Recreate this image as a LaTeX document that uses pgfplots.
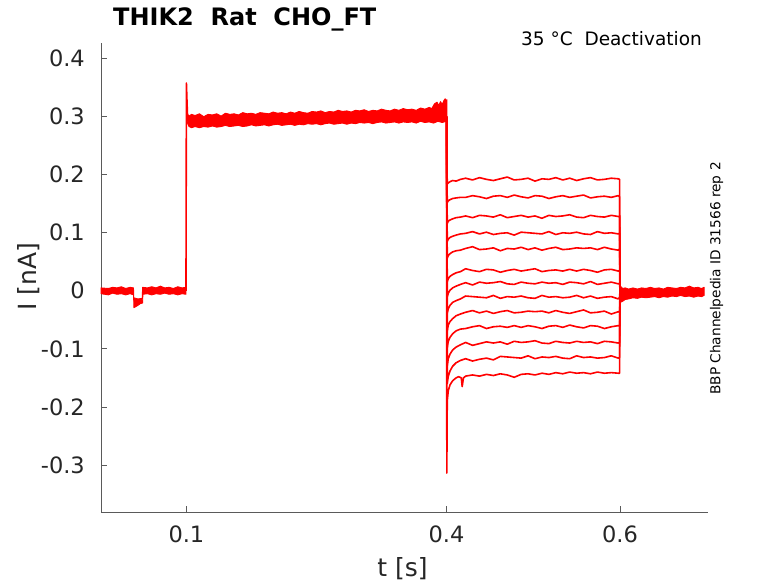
\documentclass[border=0pt]{standalone}
\usepackage{pgfplots}
\pgfplotsset{compat=1.18}
\usepackage{fontspec}
\setmainfont{DejaVu Sans}
\definecolor{axgray}{RGB}{90,90,90}
\definecolor{txtgray}{RGB}{38,38,38}
\begin{document}
\begin{tikzpicture}
\path[use as bounding box] (0,0) rectangle (778pt,583pt);
\begin{axis}[
  at={(101pt,70.5pt)}, anchor=south west,
  scale only axis, width=607pt, height=469.5pt,
  xmin=0.0015, xmax=0.7015, ymin=-0.382, ymax=0.427,
  axis x line*=bottom, axis y line*=left,
  axis line style={draw=axgray, line width=0.7pt, -},
  tick style={draw=axgray, line width=0.7pt},
  major tick length=6pt, tick align=inside,
  xtick={0.1,0.4,0.6}, xticklabels={0.1,0.4,0.6},
  ytick={-0.3,-0.2,-0.1,0,0.1,0.2,0.3,0.4},
  yticklabels={-0.3,-0.2,-0.1,0,0.1,0.2,0.3,0.4},
  yticklabel style={font=\fontsize{22.5}{26}\selectfont, text=txtgray, anchor=east, inner sep=0pt, xshift=-16pt},
  xticklabel style={font=\fontsize{22.5}{26}\selectfont, text=txtgray, anchor=north, inner sep=0pt, yshift=-13.5pt},
  clip=false,
  every axis plot/.append style={line join=round},
]
% baseline before 0.1
\addplot[red, fill=red, line width=0.9pt] coordinates {
(0.0015,0.005)(0.01,0.004)(0.015,0.006)(0.02,0.005)(0.025,0.007)(0.03,0.004)(0.035,0.006)(0.039,0.005)(0.0392,-0.012)(0.044,-0.014)(0.049,-0.013)(0.0495,0.006)(0.055,0.005)(0.06,0.007)(0.065,0.005)(0.07,0.008)(0.075,0.005)(0.08,0.006)(0.085,0.004)(0.09,0.007)(0.095,0.005)(0.0995,0.006)
(0.0995,-0.006)(0.095,-0.005)(0.09,-0.007)(0.085,-0.005)(0.08,-0.006)(0.075,-0.004)(0.07,-0.006)(0.065,-0.005)(0.06,-0.007)(0.055,-0.005)(0.0498,-0.006)(0.0495,-0.021)(0.047,-0.022)(0.045,-0.024)(0.043,-0.026)(0.0395,-0.029)(0.039,-0.007)(0.035,-0.005)(0.03,-0.007)(0.025,-0.005)(0.02,-0.006)(0.015,-0.004)(0.01,-0.007)(0.0015,-0.005)
} -- cycle;
% onset spike at 0.1
\addplot[red, line width=1.6pt] coordinates {(0.0995,0.0)(0.1,0.358)(0.1006,0.33)(0.1012,0.305)(0.102,0.295)};
% plateau band 0.1-0.4
\addplot[red, fill=red, line width=0.9pt] coordinates {
(0.1005,0.306)(0.103,0.301)(0.106,0.304)(0.11,0.302)(0.115,0.305)(0.12,0.300)(0.125,0.304)(0.13,0.303)(0.135,0.305)(0.14,0.301)(0.145,0.306)(0.15,0.304)(0.155,0.305)(0.16,0.303)(0.165,0.307)(0.17,0.305)(0.175,0.306)(0.18,0.304)(0.185,0.307)(0.19,0.306)(0.195,0.305)(0.20,0.308)(0.205,0.306)(0.21,0.307)(0.215,0.305)(0.22,0.308)(0.225,0.306)(0.23,0.309)(0.235,0.307)(0.24,0.306)(0.245,0.309)(0.25,0.308)(0.255,0.310)(0.26,0.307)(0.265,0.309)(0.27,0.308)(0.275,0.311)(0.28,0.309)(0.285,0.310)(0.29,0.308)(0.295,0.311)(0.30,0.310)(0.305,0.312)(0.31,0.309)(0.315,0.311)(0.32,0.310)(0.325,0.313)(0.33,0.311)(0.335,0.310)(0.34,0.313)(0.345,0.311)(0.35,0.314)(0.355,0.312)(0.36,0.313)(0.365,0.311)(0.37,0.315)(0.375,0.313)(0.38,0.316)(0.383,0.314)(0.386,0.322)(0.389,0.325)(0.391,0.319)(0.393,0.326)(0.395,0.321)(0.397,0.328)(0.3985,0.331)(0.3995,0.318)
(0.3995,0.292)(0.395,0.290)(0.39,0.292)(0.385,0.289)(0.38,0.291)(0.375,0.290)(0.37,0.292)(0.365,0.289)(0.36,0.291)(0.355,0.290)(0.35,0.291)(0.345,0.289)(0.34,0.291)(0.335,0.290)(0.33,0.289)(0.325,0.291)(0.32,0.290)(0.315,0.288)(0.31,0.290)(0.305,0.289)(0.30,0.290)(0.295,0.288)(0.29,0.289)(0.285,0.287)(0.28,0.289)(0.275,0.288)(0.27,0.287)(0.265,0.289)(0.26,0.288)(0.255,0.286)(0.25,0.288)(0.245,0.287)(0.24,0.288)(0.235,0.286)(0.23,0.287)(0.225,0.285)(0.22,0.287)(0.215,0.286)(0.21,0.285)(0.205,0.287)(0.20,0.286)(0.195,0.284)(0.19,0.286)(0.185,0.285)(0.18,0.284)(0.175,0.286)(0.17,0.284)(0.165,0.283)(0.16,0.285)(0.155,0.284)(0.15,0.283)(0.145,0.285)(0.14,0.283)(0.135,0.282)(0.13,0.284)(0.125,0.282)(0.12,0.283)(0.115,0.281)(0.11,0.283)(0.106,0.281)(0.103,0.283)(0.1015,0.288)(0.1005,0.295)
} -- cycle;
% deactivation sweeps
\addplot[red, line width=1.6pt] coordinates {(0.4,0.300)(0.4008,0.184)(0.402,0.186)(0.404,0.188)(0.407,0.190)(0.411,0.189)(0.416,0.192)(0.422,0.194)(0.430,0.191)(0.438,0.195)(0.446,0.192)(0.454,0.190)(0.462,0.193)(0.470,0.196)(0.478,0.191)(0.486,0.192)(0.494,0.194)(0.502,0.189)(0.510,0.193)(0.518,0.192)(0.526,0.195)(0.534,0.191)(0.542,0.194)(0.550,0.190)(0.558,0.193)(0.566,0.195)(0.574,0.191)(0.582,0.192)(0.590,0.194)(0.598,0.193)(0.5995,0.192)(0.6,0.0)};
\addplot[red, line width=1.6pt] coordinates {(0.4,0.300)(0.4008,0.152)(0.402,0.155)(0.404,0.157)(0.407,0.159)(0.411,0.160)(0.416,0.161)(0.422,0.161)(0.430,0.164)(0.438,0.162)(0.446,0.159)(0.454,0.163)(0.462,0.164)(0.470,0.161)(0.478,0.165)(0.486,0.162)(0.494,0.160)(0.502,0.164)(0.510,0.163)(0.518,0.159)(0.526,0.162)(0.534,0.164)(0.542,0.161)(0.550,0.163)(0.558,0.165)(0.566,0.160)(0.574,0.162)(0.582,0.163)(0.590,0.161)(0.598,0.164)(0.5995,0.162)(0.6,0.0)};
\addplot[red, line width=1.6pt] coordinates {(0.4,0.300)(0.4008,0.116)(0.402,0.120)(0.404,0.122)(0.407,0.124)(0.411,0.126)(0.416,0.127)(0.422,0.129)(0.430,0.126)(0.438,0.130)(0.446,0.129)(0.454,0.127)(0.462,0.131)(0.470,0.126)(0.478,0.128)(0.486,0.130)(0.494,0.127)(0.502,0.129)(0.510,0.125)(0.518,0.130)(0.526,0.128)(0.534,0.129)(0.542,0.131)(0.550,0.127)(0.558,0.126)(0.566,0.130)(0.574,0.128)(0.582,0.127)(0.590,0.130)(0.598,0.128)(0.5995,0.128)(0.6,0.0)};
\addplot[red, line width=1.6pt] coordinates {(0.4,0.300)(0.4008,0.085)(0.402,0.089)(0.404,0.092)(0.407,0.094)(0.411,0.096)(0.416,0.098)(0.422,0.099)(0.430,0.102)(0.438,0.098)(0.446,0.101)(0.454,0.097)(0.462,0.099)(0.470,0.100)(0.478,0.096)(0.486,0.101)(0.494,0.100)(0.502,0.099)(0.510,0.098)(0.518,0.102)(0.526,0.097)(0.534,0.100)(0.542,0.099)(0.550,0.101)(0.558,0.098)(0.566,0.097)(0.574,0.102)(0.582,0.099)(0.590,0.100)(0.598,0.098)(0.5995,0.099)(0.6,0.0)};
\addplot[red, line width=1.6pt] coordinates {(0.4,0.300)(0.4008,0.056)(0.402,0.061)(0.404,0.064)(0.407,0.067)(0.411,0.069)(0.416,0.070)(0.422,0.073)(0.430,0.076)(0.438,0.071)(0.446,0.072)(0.454,0.074)(0.462,0.069)(0.470,0.073)(0.478,0.072)(0.486,0.075)(0.494,0.071)(0.502,0.074)(0.510,0.070)(0.518,0.073)(0.526,0.075)(0.534,0.071)(0.542,0.072)(0.550,0.074)(0.558,0.073)(0.566,0.074)(0.574,0.071)(0.582,0.075)(0.590,0.072)(0.598,0.070)(0.5995,0.072)(0.6,0.0)};
\addplot[red, line width=1.6pt] coordinates {(0.4,0.300)(0.4008,0.015)(0.402,0.021)(0.404,0.025)(0.407,0.028)(0.411,0.031)(0.416,0.033)(0.422,0.038)(0.430,0.035)(0.438,0.033)(0.446,0.037)(0.454,0.036)(0.462,0.032)(0.470,0.035)(0.478,0.037)(0.486,0.034)(0.494,0.036)(0.502,0.038)(0.510,0.033)(0.518,0.035)(0.526,0.036)(0.534,0.034)(0.542,0.037)(0.550,0.034)(0.558,0.037)(0.566,0.035)(0.574,0.032)(0.582,0.036)(0.590,0.037)(0.598,0.034)(0.5995,0.035)(0.6,0.0)};
\addplot[red, line width=1.6pt] coordinates {(0.4,0.300)(0.4008,-0.011)(0.402,-0.004)(0.404,0.001)(0.407,0.005)(0.411,0.008)(0.416,0.011)(0.422,0.014)(0.430,0.010)(0.438,0.015)(0.446,0.013)(0.454,0.014)(0.462,0.016)(0.470,0.012)(0.478,0.011)(0.486,0.015)(0.494,0.013)(0.502,0.012)(0.510,0.015)(0.518,0.013)(0.526,0.014)(0.534,0.011)(0.542,0.015)(0.550,0.014)(0.558,0.012)(0.566,0.016)(0.574,0.011)(0.582,0.013)(0.590,0.015)(0.598,0.012)(0.5995,0.013)(0.6,0.0)};
\addplot[red, line width=1.6pt] coordinates {(0.4,0.300)(0.4008,-0.039)(0.402,-0.031)(0.404,-0.025)(0.407,-0.020)(0.411,-0.017)(0.416,-0.014)(0.422,-0.009)(0.430,-0.010)(0.438,-0.011)(0.446,-0.012)(0.454,-0.008)(0.462,-0.013)(0.470,-0.010)(0.478,-0.011)(0.486,-0.009)(0.494,-0.012)(0.502,-0.013)(0.510,-0.008)(0.518,-0.011)(0.526,-0.010)(0.534,-0.012)(0.542,-0.011)(0.550,-0.008)(0.558,-0.012)(0.566,-0.009)(0.574,-0.013)(0.582,-0.011)(0.590,-0.010)(0.598,-0.014)(0.5995,-0.011)(0.6,0.0)};
\addplot[red, line width=1.6pt] coordinates {(0.4,0.300)(0.4008,-0.069)(0.402,-0.059)(0.404,-0.053)(0.407,-0.048)(0.411,-0.043)(0.416,-0.040)(0.422,-0.037)(0.430,-0.034)(0.438,-0.038)(0.446,-0.035)(0.454,-0.039)(0.462,-0.036)(0.470,-0.034)(0.478,-0.038)(0.486,-0.037)(0.494,-0.035)(0.502,-0.036)(0.510,-0.035)(0.518,-0.038)(0.526,-0.034)(0.534,-0.037)(0.542,-0.039)(0.550,-0.036)(0.558,-0.033)(0.566,-0.038)(0.574,-0.037)(0.582,-0.035)(0.590,-0.040)(0.598,-0.036)(0.5995,-0.037)(0.6,0.0)};
\addplot[red, line width=1.6pt] coordinates {(0.4,0.300)(0.4008,-0.098)(0.402,-0.087)(0.404,-0.080)(0.407,-0.074)(0.411,-0.069)(0.416,-0.066)(0.422,-0.065)(0.430,-0.062)(0.438,-0.060)(0.446,-0.065)(0.454,-0.062)(0.462,-0.061)(0.470,-0.063)(0.478,-0.060)(0.486,-0.063)(0.494,-0.060)(0.502,-0.062)(0.510,-0.065)(0.518,-0.061)(0.526,-0.060)(0.534,-0.063)(0.542,-0.059)(0.550,-0.062)(0.558,-0.064)(0.566,-0.060)(0.574,-0.061)(0.582,-0.065)(0.590,-0.062)(0.598,-0.060)(0.5995,-0.061)(0.6,0.0)};
\addplot[red, line width=1.6pt] coordinates {(0.4,0.300)(0.4008,-0.129)(0.402,-0.117)(0.404,-0.109)(0.407,-0.102)(0.411,-0.097)(0.416,-0.093)(0.422,-0.089)(0.430,-0.094)(0.438,-0.091)(0.446,-0.088)(0.454,-0.090)(0.462,-0.088)(0.470,-0.092)(0.478,-0.087)(0.486,-0.089)(0.494,-0.088)(0.502,-0.086)(0.510,-0.090)(0.518,-0.091)(0.526,-0.087)(0.534,-0.089)(0.542,-0.090)(0.550,-0.087)(0.558,-0.089)(0.566,-0.088)(0.574,-0.091)(0.582,-0.087)(0.590,-0.088)(0.598,-0.090)(0.5995,-0.089)(0.6,0.0)};
\addplot[red, line width=1.6pt] coordinates {(0.4,0.300)(0.4008,-0.160)(0.402,-0.147)(0.404,-0.138)(0.407,-0.130)(0.411,-0.124)(0.416,-0.120)(0.422,-0.117)(0.430,-0.121)(0.438,-0.118)(0.446,-0.116)(0.454,-0.119)(0.462,-0.113)(0.470,-0.114)(0.478,-0.115)(0.486,-0.116)(0.494,-0.112)(0.502,-0.117)(0.510,-0.114)(0.518,-0.115)(0.526,-0.113)(0.534,-0.116)(0.542,-0.117)(0.550,-0.112)(0.558,-0.115)(0.566,-0.114)(0.574,-0.116)(0.582,-0.115)(0.590,-0.112)(0.598,-0.116)(0.5995,-0.115)(0.6,0.0)};
\addplot[red, line width=1.6pt] coordinates {(0.4,0.330)(0.4003,-0.314)(0.4008,-0.190)(0.402,-0.172)(0.404,-0.162)(0.407,-0.155)(0.411,-0.150)(0.414,-0.148)(0.417,-0.150)(0.418,-0.165)(0.4195,-0.150)(0.422,-0.147)(0.430,-0.145)(0.438,-0.147)(0.446,-0.144)(0.454,-0.146)(0.462,-0.143)(0.470,-0.145)(0.478,-0.149)(0.486,-0.144)(0.494,-0.143)(0.502,-0.145)(0.510,-0.142)(0.518,-0.144)(0.526,-0.141)(0.534,-0.143)(0.542,-0.140)(0.550,-0.142)(0.558,-0.141)(0.566,-0.143)(0.574,-0.140)(0.582,-0.142)(0.590,-0.141)(0.598,-0.142)(0.5995,-0.142)(0.6,0.0)};
% baseline after 0.6
\addplot[red, fill=red, line width=0.9pt] coordinates {
(0.6005,0.008)(0.603,0.004)(0.606,0.005)(0.61,0.003)(0.615,0.005)(0.62,0.003)(0.625,0.005)(0.63,0.004)(0.635,0.006)(0.64,0.004)(0.645,0.005)(0.65,0.003)(0.655,0.006)(0.66,0.005)(0.665,0.004)(0.67,0.006)(0.675,0.005)(0.68,0.008)(0.685,0.005)(0.69,0.006)(0.694,0.004)(0.697,0.006)
(0.697,-0.008)(0.694,-0.010)(0.69,-0.009)(0.685,-0.011)(0.68,-0.009)(0.675,-0.010)(0.67,-0.008)(0.665,-0.010)(0.66,-0.009)(0.655,-0.011)(0.65,-0.010)(0.645,-0.012)(0.64,-0.010)(0.635,-0.011)(0.63,-0.012)(0.625,-0.011)(0.62,-0.013)(0.615,-0.012)(0.61,-0.014)(0.606,-0.015)(0.603,-0.018)(0.6005,-0.020)
} -- cycle;
\end{axis}
\node[anchor=base west, font=\fontsize{24}{28}\selectfont\bfseries, inner sep=0pt] at (113pt,557pt) {THIK2\ \ Rat\ \ CHO\_FT};
\node[anchor=base east, font=\fontsize{18.5}{22}\selectfont, text=black, inner sep=0pt] at (702pt,537pt) {35 °C\ \ Deactivation};
\node[rotate=90, font=\fontsize{13.7}{16}\selectfont, text=black, inner sep=0pt] at (716.5pt,304.5pt) {BBP Channelpedia ID 31566 rep 2};
\node[font=\fontsize{25}{30}\selectfont, text=txtgray, inner sep=0pt] at (402.5pt,14pt) {t [s]};
\node[rotate=90, font=\fontsize{25}{30}\selectfont, text=txtgray, inner sep=0pt] at (29pt,306pt) {I [nA]};
\end{tikzpicture}
\end{document}
